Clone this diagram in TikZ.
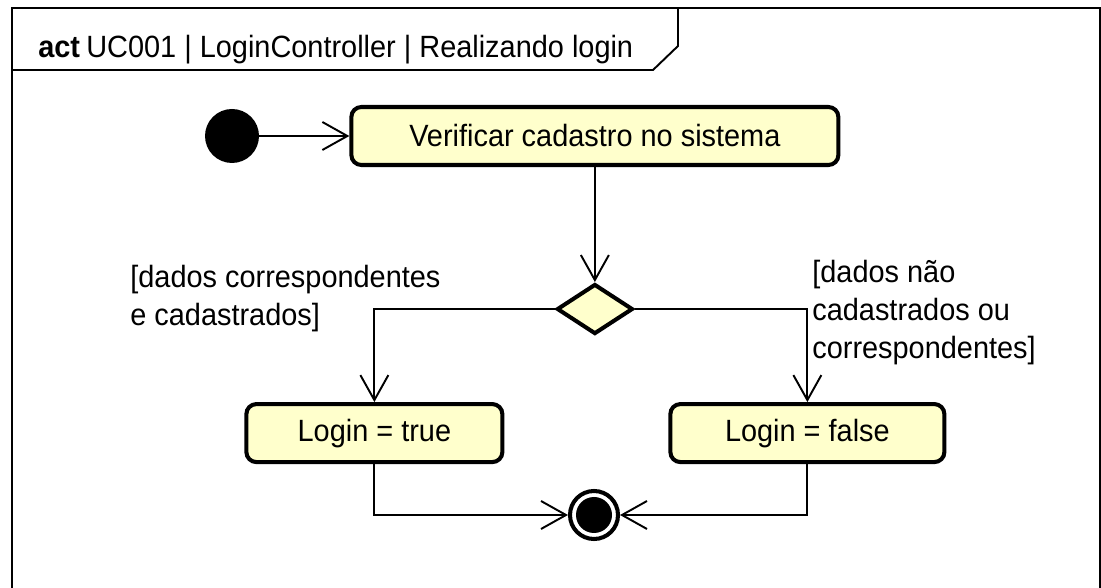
\documentclass[tikz,border=0pt]{standalone}
\usepackage{fontspec}
\setmainfont{Liberation Sans}[FakeStretch=0.94]
\usepackage{tikz}
\usetikzlibrary{shapes.geometric,arrows.meta,positioning,calc}

\definecolor{amarelo}{RGB}{255,255,204}

\begin{document}
\begin{tikzpicture}[font=\fontsize{17.5}{21.5}\selectfont,
        moldura/.style={draw, line width=1.1pt},
        atividade/.style={rectangle, draw, rounded corners=0.2cm, line width=2.3pt, fill=amarelo, minimum height=1.16cm, text centered},
        inicio/.style={circle, fill=black, minimum size=1.08cm, inner sep=0},
        fim/.style={circle, draw, line width=2.3pt, fill=white, minimum size=0.96cm, inner sep=0,
            path picture={\fill[black] (path picture bounding box.center) circle (0.36cm);}},
        decisao/.style={diamond, draw, line width=2.3pt, fill=amarelo, minimum width=1.52cm, minimum height=1.0cm, inner sep=0},
        seta/.style={-{Straight Barb[length=0.5cm,width=0.56cm]}, line width=1.1pt},
        guarda/.style={align=left, anchor=north west, inner sep=0}]

        \useasboundingbox (0,0) rectangle (22.02,-11.76);

        % moldura do diagrama
        \draw [moldura] (0.24,-12.5) |- (22.0,-0.16) -- (22.0,-12.5);
        \draw [moldura] (0.24,-1.40) -- (13.06,-1.40) -- (13.56,-0.92) -- (13.56,-0.16);
        \node [anchor=base west, inner sep=0] (titulo) at (0.76,-1.16) {\textbf{act}\hspace{0.2em}UC001 | LoginController | Realizando login};

        \node [inicio] (ini) at (4.64,-2.72) {};
        \node [atividade, minimum width=9.74cm, right=1.8cm of ini] (verif) {Verificar cadastro no sistema};
        \node [decisao, below=2.3cm of verif] (dec) {};
        \node [atividade, minimum width=5.12cm, below=1.32cm of dec, xshift=-4.41cm] (vtrue) {Login = true};
        \node [atividade, minimum width=5.48cm, below=1.32cm of dec, xshift=4.25cm] (vfalse) {Login = false};
        \node [fim] (final) at (11.88,-10.30) {};

        \node [guarda] (gsim) at (2.60,-5.30) {[dados correspondentes\\e cadastrados]};
        \node [guarda] (gnao) at (16.24,-5.20) {[dados não\\cadastrados ou\\correspondentes]};

        \draw [seta] (ini) -- (verif);
        \draw [seta] (verif) -- (dec);
        \draw [seta] (dec.west) -| (vtrue.north);
        \draw [seta] (dec.east) -| (vfalse.north);
        \draw [seta] (vtrue.south) |- (final.west);
        \draw [seta] (vfalse.south) |- (final.east);
    \end{tikzpicture}
\end{document}
